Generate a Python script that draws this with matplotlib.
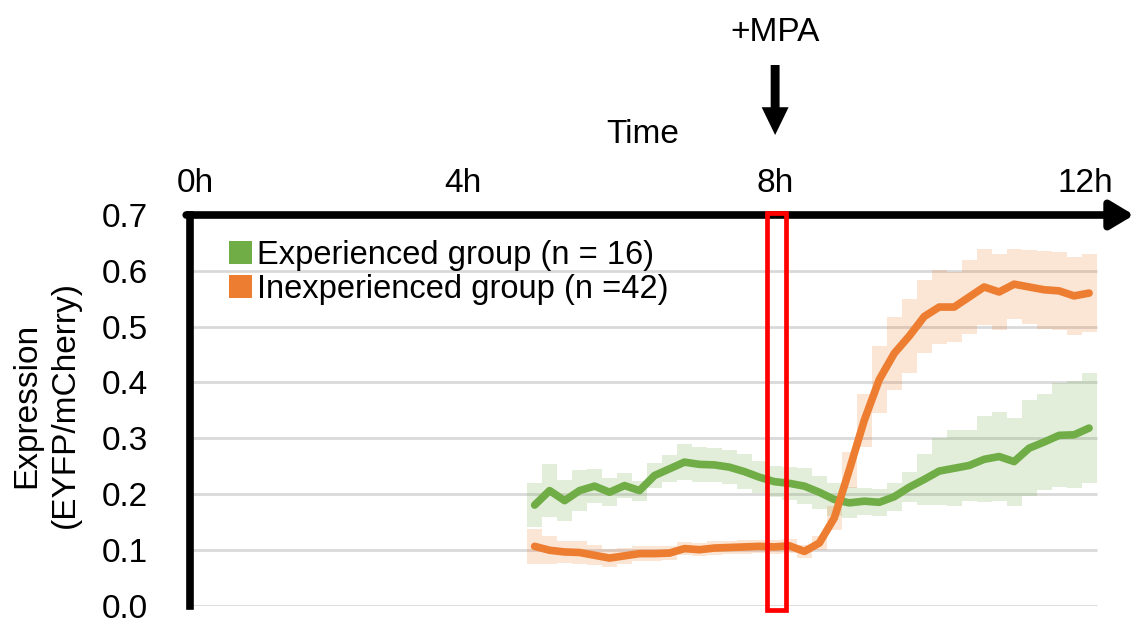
import numpy as np
import matplotlib.pyplot as plt
from matplotlib.patches import Patch, Rectangle

plt.rcParams['font.family'] = ['Liberation Sans', 'DejaVu Sans']

# Sampling times (h)
time_h = [4.6, 4.8, 5.0, 5.2, 5.4, 5.6, 5.8, 6.0, 6.2, 6.4,
          6.6, 6.8, 7.0, 7.2, 7.4, 7.6, 7.8, 8.0, 8.2, 8.4,
          8.6, 8.8, 9.0, 9.2, 9.4, 9.6, 9.8, 10.0, 10.2, 10.4,
          10.6, 10.8, 11.0, 11.2, 11.4, 11.6, 11.8, 12.0]

# Experienced group (n = 16): mean and error
exp_mean = [0.180, 0.206, 0.188, 0.206, 0.214, 0.203, 0.215, 0.206, 0.233, 0.245,
            0.257, 0.253, 0.252, 0.248, 0.240, 0.230, 0.222, 0.219, 0.214, 0.203,
            0.190, 0.184, 0.187, 0.185, 0.195, 0.212, 0.226, 0.241, 0.246, 0.251,
            0.262, 0.267, 0.258, 0.282, 0.293, 0.305, 0.306, 0.318]
exp_err = [0.040, 0.047, 0.037, 0.036, 0.030, 0.025, 0.022, 0.018, 0.022, 0.024,
           0.032, 0.031, 0.031, 0.031, 0.032, 0.029, 0.028, 0.030, 0.032, 0.030,
           0.030, 0.028, 0.024, 0.024, 0.025, 0.027, 0.046, 0.060, 0.068, 0.063,
           0.077, 0.080, 0.079, 0.086, 0.086, 0.093, 0.096, 0.099]

# Inexperienced group (n = 42): mean and error
inexp_mean = [0.106, 0.099, 0.096, 0.095, 0.090, 0.085, 0.089, 0.093, 0.093, 0.094,
              0.102, 0.100, 0.103, 0.104, 0.105, 0.106, 0.105, 0.107, 0.097, 0.112,
              0.157, 0.243, 0.332, 0.405, 0.452, 0.483, 0.518, 0.535, 0.535, 0.553,
              0.571, 0.562, 0.576, 0.571, 0.566, 0.564, 0.555, 0.560]
inexp_err = [0.032, 0.025, 0.020, 0.020, 0.018, 0.016, 0.014, 0.013, 0.013, 0.012,
             0.012, 0.012, 0.012, 0.012, 0.012, 0.012, 0.012, 0.012, 0.012, 0.013,
             0.021, 0.033, 0.047, 0.060, 0.066, 0.067, 0.066, 0.067, 0.063, 0.066,
             0.068, 0.068, 0.063, 0.066, 0.070, 0.070, 0.070, 0.070]

y_ticks = [0.0, 0.1, 0.2, 0.3, 0.4, 0.5, 0.6, 0.7]
hour_labels = ['0h', '4h', '8h', '12h']
hour_label_pos = [0.07, 3.64, 7.81, 11.95]
mpa_time = 7.81
highlight = (7.70, 7.96)

green = '#70AD47'
orange = '#ED7D31'
FS = 24

t = np.array(time_h)
dt = t[1] - t[0]
edges = np.append(t - dt / 2, t[-1] + dt / 2)

fig = plt.figure(figsize=(11.34, 6.19), dpi=100)
ax = fig.add_axes([190 / 1134, 13.5 / 619, 944 / 1134, 390.5 / 619])
ax.set_xlim(0, 12.6)
ax.set_ylim(0, 0.7)

# gridlines
ax.hlines(y_ticks[:-1], 0, edges[-1], color='#D9D9D9', lw=2, zorder=0)

# shaded bands
for mean, err, c in [(exp_mean, exp_err, green), (inexp_mean, inexp_err, orange)]:
    m, e = np.array(mean), np.array(err)
    ax.stairs(m + e, edges, baseline=m - e, fill=True, color=c, alpha=0.2, lw=0, zorder=2)

ax.plot(t, exp_mean, color=green, lw=5.5, solid_capstyle='round', solid_joinstyle='round', zorder=3)
ax.plot(t, inexp_mean, color=orange, lw=5.5, solid_capstyle='round', solid_joinstyle='round', zorder=4)

# axes styling
for s in ['top', 'right', 'bottom']:
    ax.spines[s].set_visible(False)
ax.spines['left'].set_linewidth(5.5)
ax.spines['left'].set_zorder(5)
ax.set_yticks(y_ticks)
ax.set_yticklabels([f'{v:.1f}' for v in y_ticks])
ax.tick_params(axis='y', length=0, pad=30, labelsize=FS)
ax.set_xticks(hour_label_pos)
ax.set_xticklabels(hour_labels)
ax.xaxis.set_ticks_position('top')
ax.tick_params(axis='x', length=0, pad=11.5, labelsize=FS)

# time axis arrow
ax.annotate('', xy=(1, 1), xytext=(-0.004, 1), xycoords='axes fraction',
            arrowprops=dict(arrowstyle='-|>,head_length=0.5,head_width=0.3', lw=5.5,
                            color='black', mutation_scale=28, shrinkA=0, shrinkB=0),
            annotation_clip=False, zorder=5)

# highlight box
ax.add_patch(Rectangle((highlight[0], -0.008), highlight[1] - highlight[0], 0.711,
                       fill=False, edgecolor='#FF0000', lw=3.4, zorder=7, clip_on=False))

# MPA arrow
ax.annotate('', xy=(mpa_time, 619 - 135), xytext=(mpa_time, 619 - 65),
            xycoords=('data', 'figure pixels'),
            arrowprops=dict(arrowstyle='simple,head_length=1.0,head_width=0.97,tail_width=0.32',
                            mutation_scale=20, fc='black', ec='none', shrinkA=0, shrinkB=0),
            annotation_clip=False)
fig.text(775 / 1134, 1 - 41 / 619, '+MPA', fontsize=FS, ha='center', va='baseline')
fig.text(643 / 1134, 1 - 143 / 619, 'Time', fontsize=FS, ha='center', va='baseline')
fig.text(46 / 1134, 1 - 405 / 619, 'Expression\n(EYFP/mCherry)', fontsize=FS, rotation=90,
         ha='center', va='center', multialignment='center', linespacing=1.3)

handles = [Patch(facecolor=green), Patch(facecolor=orange)]
ax.legend(handles, ['Experienced group (n = 16)', 'Inexperienced group (n =42)'],
          loc='upper left', bbox_to_anchor=(0.0413, 0.936), frameon=False, fontsize=FS - 0.5,
          handlelength=0.72, handleheight=0.72, handletextpad=0.15, labelspacing=0.1,
          borderpad=0, borderaxespad=0)

fig.savefig('out.png', dpi=100)
